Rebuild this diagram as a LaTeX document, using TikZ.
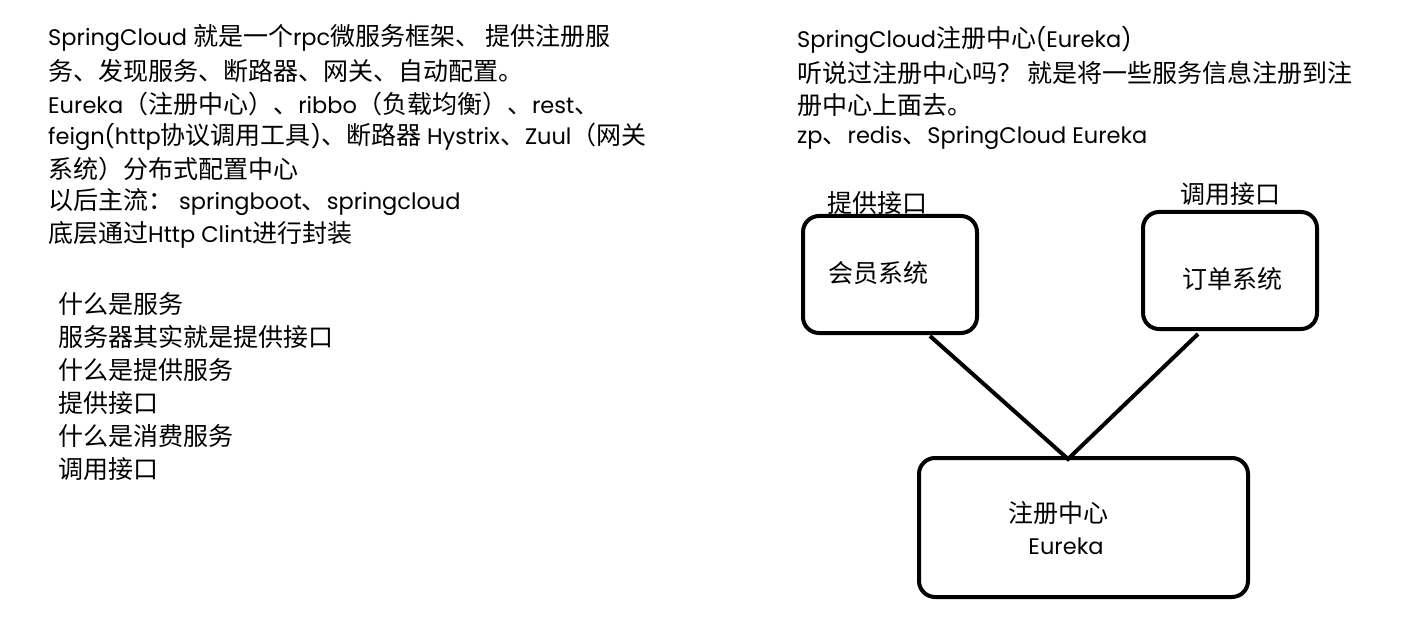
\documentclass[tikz,border=0pt]{standalone}
\usepackage{fontspec}
\setmainfont{Poppins}
\newfontfamily\cjkraw{Noto Sans CJK SC}
\newcommand\cjk{\cjkraw\fontsize{25}{28}\selectfont}
\begin{document}
\begin{tikzpicture}[x=1pt,y=-1pt,
  txt/.style={anchor=west,inner sep=0pt,font=\fontsize{22.5}{26}\selectfont},
  sys/.style={draw,line width=4pt,rounded corners=16pt},
  lbl/.style={inner sep=0pt,font=\cjk},
  link/.style={line width=4pt}]
\useasboundingbox[fill=white] (0,0) rectangle (1427,631);
% left text
\node[txt] (l1) at (48,38) {SpringCloud {\cjk 就是一个}rpc{\cjk 微服务框架、 提供注册服}};
\node[txt] (l2) at (48,71) {\cjk 务、发现服务、断路器、网关、自动配置。};
\node[txt] (l3) at (48,104) {Eureka{\cjk （注册中心）、}ribbo{\cjk （负载均衡）、}rest{\cjk 、}};
\node[txt] (l4) at (48,137) {feign(http{\cjk 协议调用工具}){\cjk 、断路器} Hystrix{\cjk 、}Zuul{\cjk （网关}};
\node[txt] (l5) at (48,169) {\cjk 系统）分布式配置中心};
\node[txt] (l6) at (48,202) {{\cjk 以后主流：} springboot{\cjk 、}springcloud};
\node[txt] (l7) at (48,235) {{\cjk 底层通过}Http Clint{\cjk 进行封装}};
\node[txt] (q1) at (58,304) {\cjk 什么是服务};
\node[txt] (q2) at (58,337) {\cjk 服务器其实就是提供接口};
\node[txt] (q3) at (58,370) {\cjk 什么是提供服务};
\node[txt] (q4) at (58,403) {\cjk 提供接口};
\node[txt] (q5) at (58,436) {\cjk 什么是消费服务};
\node[txt] (q6) at (58,469) {\cjk 调用接口};
% right text
\node[txt] (r1) at (797,40) {SpringCloud{\cjk 注册中心}(Eureka)};
\node[txt] (r2) at (797,73) {\cjk 听说过注册中心吗？ 就是将一些服务信息注册到注};
\node[txt] (r3) at (797,105) {\cjk 册中心上面去。};
\node[txt] (r4) at (797,138) {zp{\cjk 、}redis{\cjk 、}SpringCloud Eureka};
% diagram
\draw[sys] (803,216) rectangle (977,333);
\node[lbl] (member) at (878,273) {会员系统};
\node[lbl] (provide) at (877,203) {提供接口};
\draw[sys] (1143,212) rectangle (1317,329);
\node[lbl] (order) at (1232,279) {订单系统};
\node[lbl] (call) at (1230,194) {调用接口};
\draw[sys] (919,458) rectangle (1248,597);
\node[lbl] (regc) at (1058,513) {注册中心};
\node[inner sep=0pt,font=\fontsize{22.5}{26}\selectfont] (eur) at (1066,546) {Eureka};
\coordinate (a1) at (930,336);
\coordinate (a2) at (1198,334);
\coordinate (hub) at (1068,459);
\draw[link] (a1) -- (hub) -- (a2);
\end{tikzpicture}
\end{document}
